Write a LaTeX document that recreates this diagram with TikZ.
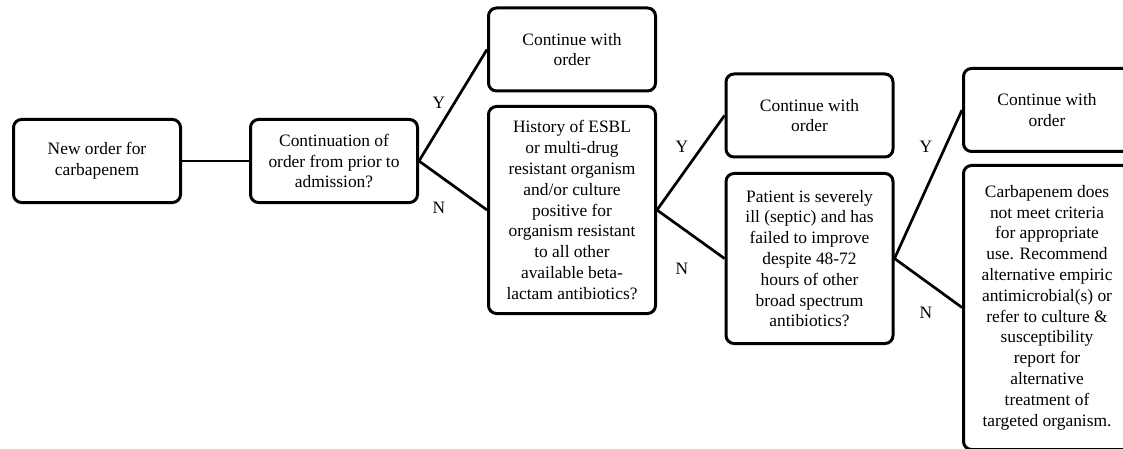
\documentclass[tikz,border=0pt]{standalone}
\usepackage{fontspec}
\setmainfont{Liberation Serif}
\usepackage{tikz}

\begin{document}
\begin{tikzpicture}[x=1pt,y=-1pt,
    box/.style={draw,rounded corners=8pt,line width=3pt,align=center,
      minimum width=167pt,inner sep=0pt,font=\fontsize{17.4}{20.8}\selectfont},
    link/.style={line width=2.7pt},
    yn/.style={font=\fontsize{17.4}{20.8}\selectfont}]
      \useasboundingbox (0,0) rectangle (1123,449);
      \clip (0,0) rectangle (1123,449);

      \node[box,minimum height=83pt] (n0) at (97,161) {New order for\\carbapenem};
      \node[box,minimum height=83pt] (q1) at (334,161) {Continuation of\\order from prior to\\admission?};
      \node[box,minimum height=207pt] (q2) at (572,210) {History of ESBL\\or multi-drug\\resistant organism\\and/or culture\\positive for\\organism resistant\\to all other\\available beta-\\lactam antibiotics?};
      \node[box,minimum height=170pt] (q3) at (809.5,258.5) {Patient is severely\\ill (septic) and has\\failed to improve\\despite 48-72\\hours of other\\broad spectrum\\antibiotics?};
      \node[box,minimum height=284pt] (rec) at (1047,307.5) {Carbapenem does\\not meet criteria\\for appropriate\\use. Recommend\\alternative empiric\\antimicrobial(s) or\\refer to culture \&\\susceptibility\\report for\\alternative\\treatment of\\targeted organism.};

      \foreach \i/\px/\py in {1/572/49.5,2/809.5/115.5,3/1047/110}{
        \node[box,minimum height=83pt] (c\i) at (\px,\py) {Continue with\\order};
        \draw[link] (q\i.east) -- (c\i.west);
      }

      \draw[link] (n0) -- (q1);
      \draw[link] (q1.east) -- (q2.west);
      \draw[link] (q2.east) -- (q3.west);
      \draw[link] (q3.east) -- (rec.west);

      \foreach \px/\py/\pn in {439/103/208,682/147/269,926/147/313}{
        \node[yn] at (\px,\py) {Y};
        \node[yn] at (\px,\pn) {N};
      }
    \end{tikzpicture}
\end{document}
